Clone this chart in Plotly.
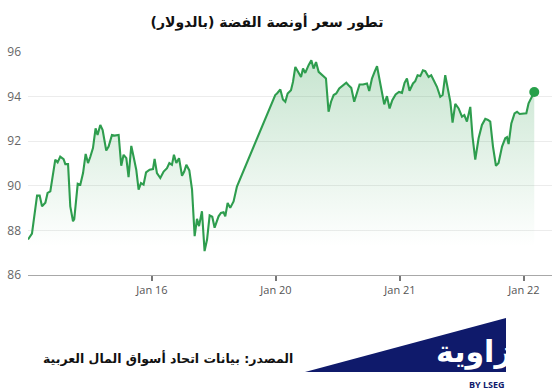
import plotly.graph_objects as go

# trading-day position (0 = start of Jan 15 session, 1 = Jan 16, 2 = Jan 20, ...)
x_pos = [0.000, 0.032, 0.073, 0.094, 0.113, 0.140, 0.158, 0.180, 0.220, 0.239,
         0.260, 0.287, 0.301, 0.323, 0.341, 0.363, 0.373, 0.401, 0.422, 0.444,
         0.465, 0.484, 0.502, 0.524, 0.545, 0.561, 0.583, 0.602, 0.631, 0.650,
         0.677, 0.698, 0.731, 0.752, 0.771, 0.793, 0.811, 0.833, 0.852, 0.873,
         0.892, 0.911, 0.932, 0.952, 0.981, 1.008, 1.021, 1.040, 1.067, 1.094,
         1.121, 1.140, 1.161, 1.177, 1.196, 1.218, 1.242, 1.260, 1.277, 1.301,
         1.323, 1.344, 1.363, 1.379, 1.403, 1.424, 1.444, 1.465, 1.486, 1.505,
         1.537, 1.556, 1.577, 1.591, 1.610, 1.631, 1.658, 1.685, 1.994, 2.008,
         2.035, 2.056, 2.075, 2.094, 2.121, 2.137, 2.156, 2.182, 2.202, 2.218,
         2.236, 2.263, 2.285, 2.303, 2.323, 2.344, 2.371, 2.403, 2.424, 2.444,
         2.465, 2.486, 2.510, 2.540, 2.567, 2.585, 2.607, 2.631, 2.653, 2.674,
         2.702, 2.734, 2.752, 2.774, 2.795, 2.815, 2.841, 2.873, 2.895, 2.916,
         2.938, 2.965, 2.992, 3.016, 3.037, 3.056, 3.077, 3.105, 3.123, 3.142,
         3.164, 3.185, 3.204, 3.231, 3.252, 3.271, 3.298, 3.325, 3.344, 3.365,
         3.392, 3.406, 3.424, 3.446, 3.473, 3.500, 3.519, 3.540, 3.567, 3.585,
         3.607, 3.634, 3.661, 3.688, 3.710, 3.728, 3.750, 3.774, 3.795, 3.823,
         3.849, 3.863, 3.876, 3.898, 3.924, 3.944, 3.965, 3.992, 4.019, 4.037,
         4.065, 4.083]

price = [87.59, 87.86, 89.56, 89.56, 89.08, 89.24, 89.68, 89.75, 91.17, 91.05,
         91.31, 91.20, 90.97, 90.97, 89.08, 88.41, 88.50, 90.09, 90.05, 90.57,
         91.43, 91.02, 91.29, 91.69, 92.58, 92.28, 92.73, 92.50, 91.58, 91.76,
         92.28, 92.25, 92.28, 90.90, 91.39, 91.24, 90.39, 91.79, 91.29, 90.72,
         89.83, 90.12, 90.05, 90.60, 90.72, 90.75, 91.21, 90.57, 90.35, 90.64,
         90.79, 91.02, 90.94, 91.39, 91.02, 91.24, 90.45, 90.64, 90.94, 90.69,
         89.83, 87.74, 88.52, 88.19, 88.86, 87.07, 87.59, 88.67, 88.61, 88.12,
         88.63, 88.78, 88.81, 88.63, 89.23, 89.01, 89.30, 89.97, 94.07, 94.14,
         94.32, 93.87, 93.77, 94.14, 94.29, 94.66, 95.33, 95.11, 94.88, 95.26,
         95.06, 95.41, 95.63, 95.26, 95.55, 95.11, 94.96, 94.81, 93.32, 93.77,
         94.07, 94.14, 94.37, 94.51, 94.62, 94.51, 94.39, 93.77, 94.21, 94.54,
         94.54, 94.59, 94.25, 94.81, 95.11, 95.36, 94.59, 93.65, 94.02, 93.47,
         93.84, 94.10, 94.21, 94.17, 94.62, 94.81, 94.26, 94.59, 94.69, 94.96,
         94.92, 95.18, 95.14, 94.88, 94.96, 94.77, 94.44, 93.99, 94.07, 94.96,
         94.21, 93.77, 92.83, 93.67, 93.47, 93.10, 93.17, 92.88, 93.54, 92.21,
         91.17, 92.13, 92.73, 93.00, 92.95, 92.88, 91.76, 90.90, 91.02, 91.76,
         92.13, 92.18, 91.87, 92.80, 93.25, 93.32, 93.22, 93.25, 93.25, 93.70,
         93.99, 94.21]

tick_pos = [1, 2, 3, 4]
tick_labels = ["Jan 16", "Jan 20", "Jan 21", "Jan 22"]
y_ticks = [86, 88, 90, 92, 94, 96]

title_text = "تطور سعر أونصة الفضة (بالدولار)"
source_text = "المصدر: بيانات اتحاد أسواق المال العربية"
logo_text = "زاوية"
logo_sub = "BY LSEG"

GREEN = "#2e9d4e"
NAVY = "#0f1a6b"
W, H = 558, 392
ML, MR, MT, MB = 28, 6, 52, 117
PW, PH = W - ML - MR, H - MT - MB


def px(x):
    return (x - ML) / PW


def py(y):
    return (H - MB - y) / PH


fig = go.Figure()
fig.add_trace(go.Scatter(
    x=x_pos, y=price, mode="lines",
    line=dict(color=GREEN, width=2.1),
    fill="tozeroy",
    fillgradient=dict(type="vertical", start=87.3, stop=96,
                      colorscale=[[0, "rgba(46,157,78,0)"],
                                  [1, "rgba(46,157,78,0.28)"]]),
    hoverinfo="skip", showlegend=False,
))
fig.add_trace(go.Scatter(
    x=[x_pos[-1]], y=[price[-1]], mode="markers",
    marker=dict(color="#27a04a", size=10),
    hoverinfo="skip", showlegend=False,
))

fig.update_layout(
    width=W, height=H,
    margin=dict(l=ML, r=MR, t=MT, b=MB),
    paper_bgcolor="white", plot_bgcolor="white",
    title=dict(text="<b>" + title_text + "</b>", x=267 / W, xanchor="center",
               xref="container",
               y=1 - 22 / H, yanchor="middle", yref="container",
               font=dict(family="DejaVu Sans", size=14, color="#111")),
    xaxis=dict(range=[0, 4.226], tickvals=tick_pos, ticktext=tick_labels,
               showgrid=False, zeroline=False, showline=True,
               linecolor="#a8a8a8", linewidth=1,
               ticks="outside", ticklen=5, tickcolor="#777", tickwidth=1.5,
               tickfont=dict(family="Open Sans", size=11, color="#555")),
    yaxis=dict(range=[86, 96], tickvals=y_ticks, showgrid=True,
               gridcolor="#ececec", gridwidth=1, zeroline=False,
               showline=False, ticks="", ticklabelstandoff=6,
               tickfont=dict(family="Open Sans", size=12, color="#666")),
    shapes=[dict(type="path", xref="paper", yref="paper",
                 path=f"M {px(305)} {py(372)} L {px(506)} {py(318)} L {px(506)} {py(372)} Z",
                 fillcolor=NAVY, line=dict(width=0), layer="below")],
    annotations=[
        dict(text="<b>" + source_text + "</b>", xref="paper", yref="paper",
             x=px(295), y=py(358), xanchor="right", yanchor="middle",
             showarrow=False, font=dict(family="DejaVu Sans", size=12.5, color="#111")),
        dict(text="<b>" + logo_text + "</b>", xref="paper", yref="paper",
             x=px(514), y=py(352), xanchor="right", yanchor="middle",
             showarrow=False, font=dict(family="DejaVu Sans", size=30, color="white")),
        dict(text="<b>" + logo_sub + "</b>", xref="paper", yref="paper",
             x=px(507), y=py(384), xanchor="right", yanchor="middle",
             showarrow=False, font=dict(family="Open Sans", size=9, color=NAVY)),
    ],
)

fig.write_html("out.html")
